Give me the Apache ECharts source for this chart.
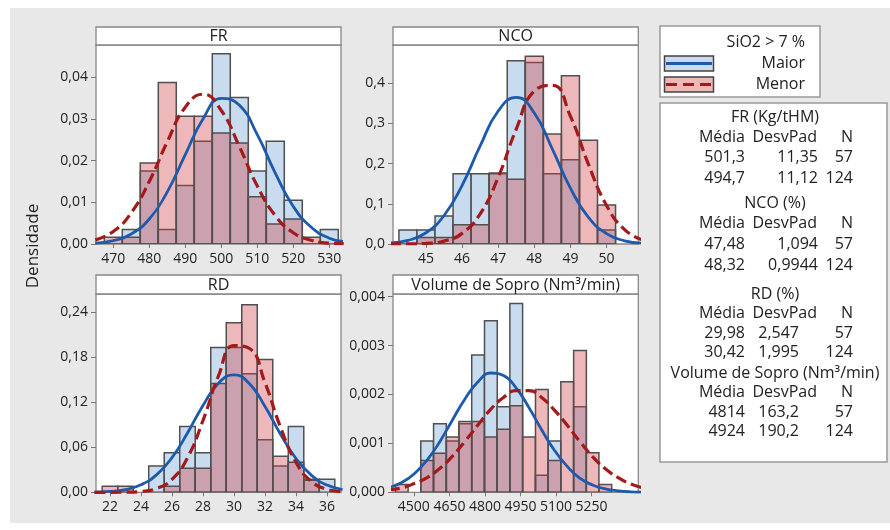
<!DOCTYPE html>
<html><head><meta charset="utf-8">
<script src="https://cdn.jsdelivr.net/npm/echarts@6/dist/echarts.min.js"></script>
<style>html,body{margin:0;padding:0;background:#fff}#c{width:890px;height:530px}</style>
</head><body><div id="c"></div>
<script>
// ---------- DATA ----------
const frCenters = [470,475,480,485,490,495,500,505,510,515,520,525,530];
const frBinWidth = 5;
const frMaior = [0,0.0035,0.0175,0.0035,0.014,0.0246,0.0456,0.0351,0.0175,0.0246,0.0105,0,0.0035];
const frMenor = [0.0016,0.0016,0.0194,0.0387,0.0306,0.0306,0.0266,0.0242,0.0113,0.0048,0.006,0.0016,0];
const frCurveX = [465,470,475,480,485,490,495,500,505,510,515,520,525,530,534];
const frMaiorCurve = [0.0002,0.0008,0.0024,0.006,0.0125,0.0214,0.0301,0.0349,0.0333,0.0262,0.017,0.009,0.004,0.0014,0.0006];
const frMenorCurve = [0.001,0.003,0.0075,0.015,0.0245,0.0328,0.0359,0.032,0.0234,0.0139,0.0068,0.0027,0.0009,0.0002,0.0001];
const frXTicks = [470,480,490,500,510,520,530];
const frYTicks = [0,0.01,0.02,0.03,0.04];

const ncoCenters = [44.5,45,45.5,46,46.5,47,47.5,48,48.5,49,49.5,50];
const ncoBinWidth = 0.5;
const ncoMaior = [0.035,0.035,0.07,0.175,0.175,0.175,0.456,0.452,0.175,0.21,0,0.035];
const ncoMenor = [0,0.016,0.016,0.048,0.048,0.177,0.161,0.467,0.274,0.419,0.258,0.097];
const ncoCurveX = [44,44.5,45,45.5,46,46.5,47,47.5,48,48.5,49,49.5,50,50.5,51];
const ncoMaiorCurve = [0.0025,0.009,0.028,0.071,0.146,0.244,0.331,0.365,0.326,0.236,0.139,0.066,0.026,0.008,0.002];
const ncoMenorCurve = [0.0001,0.0003,0.0015,0.0072,0.0264,0.075,0.166,0.286,0.381,0.395,0.318,0.198,0.096,0.036,0.01];
const ncoXTicks = [45,46,47,48,49,50];
const ncoYTicks = [0,0.1,0.2,0.3,0.4];

const rdCenters = [22,23,24,25,26,27,28,29,30,31,32,33,34,35,36];
const rdBinWidth = 1;
const rdMaior = [0,0,0,0.035,0.0526,0.0877,0.0526,0.193,0.193,0.158,0.07,0.035,0.0877,0.0175,0.0175];
const rdMenor = [0.008,0.008,0,0,0.008,0.032,0.032,0.145,0.226,0.25,0.177,0.048,0.04,0.016,0];
const rdCurveX = [21,22,23,24,25,26,27,28,29,30,31,32,33,34,35,36,37];
const rdMaiorCurve = [0.0003,0.0012,0.0037,0.01,0.0232,0.0462,0.079,0.1158,0.1454,0.1566,0.1446,0.1144,0.0775,0.0451,0.0225,0.0096,0.0035];
const rdMenorCurve = [0,0,0.0002,0.0011,0.005,0.0172,0.046,0.0958,0.1552,0.1956,0.1917,0.1461,0.0867,0.04,0.0143,0.004,0.0009];
const rdXTicks = [22,24,26,28,30,32,34,36];
const rdYTicks = [0,0.06,0.12,0.18,0.24];

const volCenters = [4449,4503,4556,4610,4664,4717,4771,4825,4878,4932,4986,5040,5093,5147,5201,5254,5308];
const volBinWidth = 53.7;
const volMaior = [0,0,0.00105,0.0014,0.00105,0.0014,0.00281,0.00351,0.00175,0.00386,0,0.00035,0.00105,0,0.00175,0,0];
const volMenor = [0.00016,0,0.00065,0.0008,0.00113,0.00145,0.00145,0.00113,0.00129,0.00177,0.00113,0.0021,0.00065,0.00226,0.0029,0.00081,0.00016];
const volCurveX = [4395,4449,4502,4556,4610,4663,4717,4771,4825,4878,4932,4986,5039,5093,5147,5200,5254,5308,5362,5415,5469];
const volMaiorCurve = [0.0001,0.0002,0.00038,0.00066,0.00104,0.00148,0.00192,0.00226,0.00244,0.00239,0.00213,0.00173,0.00128,0.00086,0.00053,0.00029,0.00015,0.00007,0.00003,0.00001,0.000004];
const volMenorCurve = [0.00005,0.00009,0.00018,0.0003,0.00049,0.00074,0.00105,0.00138,0.0017,0.00194,0.00208,0.00208,0.00194,0.00168,0.00137,0.00104,0.00073,0.00048,0.0003,0.00017,0.00009];
const volXTicks = [4500,4650,4800,4950,5100,5250];
const volYTicks = [0,0.001,0.002,0.003,0.004];

const panelTitles = ['FR','NCO','RD','Volume de Sopro (Nm³/min)'];
const legendTitle = 'SiO2 > 7 %';
const groupNames = ['Maior','Menor'];
const statTitles = ['FR (Kg/tHM)','NCO (%)','RD (%)','Volume de Sopro (Nm³/min)'];
const statHeaders = ['Média','DesvPad','N'];
const statMedia = [['501,3','494,7'],['47,48','48,32'],['29,98','30,42'],['4814','4924']];
const statDesvPad = [['11,35','11,12'],['1,094','0,9944'],['2,547','1,995'],['163,2','190,2']];
const statN = [['57','124'],['57','124'],['57','124'],['57','124']];
const yAxisName = 'Densidade';

// ---------- STYLE ----------
const FONT = '"Open Sans", "DejaVu Sans", sans-serif';
const TXT = '#222';
const BLUE_FILL = '#c8dbef';
const RED_FILL = 'rgba(210,60,66,0.37)';
const BAR_STROKE = '#505050';
const BLUE_LINE = '#1d5aac';
const RED_LINE = '#a41a1a';

const panels = [
  {c:frCenters,w:frBinWidth,a:frMaior,b:frMenor,cx:frCurveX,ca:frMaiorCurve,cb:frMenorCurve,xt:frXTicks,yt:frYTicks,xmin:465.2,xmax:533.25,ymax:0.0477,dec:2},
  {c:ncoCenters,w:ncoBinWidth,a:ncoMaior,b:ncoMenor,cx:ncoCurveX,ca:ncoMaiorCurve,cb:ncoMenorCurve,xt:ncoXTicks,yt:ncoYTicks,xmin:44.086,xmax:50.88,ymax:0.4953,dec:1},
  {c:rdCenters,w:rdBinWidth,a:rdMaior,b:rdMenor,cx:rdCurveX,ca:rdMaiorCurve,cb:rdMenorCurve,xt:rdXTicks,yt:rdYTicks,xmin:21.1,xmax:36.9,ymax:0.2644,dec:2},
  {c:volCenters,w:volBinWidth,a:volMaior,b:volMenor,cx:volCurveX,ca:volMaiorCurve,cb:volMenorCurve,xt:volXTicks,yt:volYTicks,xmin:4412,xmax:5447,ymax:0.004055,dec:3}
];
const gridBoxes = [
  {left:96,top:45,width:245,height:199},
  {left:393,top:45,width:245.3,height:199},
  {left:96,top:294,width:245,height:198.3},
  {left:393,top:294,width:245.3,height:198.3}
];

function histSeries(i, centers, w, vals, fill, z) {
  const data = [];
  centers.forEach((c, k) => { if (vals[k] > 0) data.push([c - w/2, c + w/2, vals[k]]); });
  return {
    type:'custom', xAxisIndex:i, yAxisIndex:i, z:z, clip:true, silent:true,
    encode:{x:[0,1], y:2},
    data:data,
    renderItem:function(params, api){
      const p0 = api.coord([api.value(0), 0]);
      const p1 = api.coord([api.value(1), api.value(2)]);
      return {type:'rect', shape:{x:p0[0], y:p1[1], width:p1[0]-p0[0], height:p0[1]-p1[1]},
        style:{fill:fill, stroke:BAR_STROKE, lineWidth:1.5}};
    }
  };
}
function curveSeries(i, xs, ys, color, dashed, z) {
  return {
    type:'line', xAxisIndex:i, yAxisIndex:i, z:z, clip:true, silent:true,
    showSymbol:false, smooth:true,
    data: xs.map((x,k)=>[x, ys[k]]),
    lineStyle:{color:color, width:dashed?3.2:2.8, type:dashed?[11,5]:'solid'}
  };
}

const grids = [], xAxes = [], yAxes = [], series = [];
panels.forEach((p, i) => {
  grids.push(Object.assign({show:true, backgroundColor:'#fff', borderColor:'#888', borderWidth:1.3, containLabel:false}, gridBoxes[i]));
  xAxes.push({type:'value', gridIndex:i, min:p.xmin, max:p.xmax,
    axisLine:{show:false}, splitLine:{show:false},
    axisTick:{show:true, length:4, lineStyle:{color:'#777'}, customValues:p.xt},
    axisLabel:{customValues:p.xt, color:TXT, fontSize:14, fontFamily:FONT, margin:8,
      formatter:(v)=>String(v).replace('.', ',')}
  });
  yAxes.push({type:'value', gridIndex:i, min:0, max:p.ymax,
    axisLine:{show:false}, splitLine:{show:false},
    axisTick:{show:true, length:5, lineStyle:{color:'#777'}, customValues:p.yt},
    axisLabel:{customValues:p.yt, color:TXT, fontSize:14, fontFamily:FONT, margin:8,
      formatter:(v)=>Number(v).toFixed(p.dec).replace('.', ',')}
  });
  series.push(histSeries(i, p.c, p.w, p.a, BLUE_FILL, 2));
  series.push(histSeries(i, p.c, p.w, p.b, RED_FILL, 3));
  series.push(curveSeries(i, p.cx, p.ca, BLUE_LINE, false, 4));
  series.push(curveSeries(i, p.cx, p.cb, RED_LINE, true, 5));
});

// ---------- GRAPHICS ----------
const g = [];
g.push({type:'rect', z:-10, shape:{x:10, y:8, width:880, height:515}, style:{fill:'#e8e8e8'}});
const strips = [
  {x:96,y:27,w:245,h:18},{x:393,y:27,w:245.3,h:18},
  {x:96,y:275,w:245,h:19},{x:393,y:275,w:245.3,h:19}
];
strips.forEach((s, i) => {
  g.push({type:'rect', z:10, shape:{x:s.x, y:s.y, width:s.w, height:s.h}, style:{fill:'#fff', stroke:'#888', lineWidth:1.3}});
  g.push({type:'text', z:11, x:s.x + s.w/2, y:s.y + s.h/2 + 0.5, style:{text:panelTitles[i], align:'center', verticalAlign:'middle', font:'16px ' + FONT, fill:TXT}});
});
g.push({type:'text', z:11, x:33, y:246, rotation:Math.PI/2, style:{text:yAxisName, align:'center', verticalAlign:'middle', font:'17px ' + FONT, fill:TXT}});
// legend
g.push({type:'rect', z:10, shape:{x:660, y:26, width:160, height:71}, style:{fill:'#fff', stroke:'#999', lineWidth:1.5}});
g.push({type:'text', z:11, x:805, y:42, style:{text:legendTitle, align:'right', verticalAlign:'middle', font:'16px ' + FONT, fill:TXT}});
g.push({type:'rect', z:11, shape:{x:664.5, y:56, width:49, height:15}, style:{fill:BLUE_FILL, stroke:'#444', lineWidth:1.5}});
g.push({type:'line', z:12, shape:{x1:666, y1:63.5, x2:712, y2:63.5}, style:{stroke:BLUE_LINE, lineWidth:2.8}});
g.push({type:'text', z:11, x:805, y:63, style:{text:groupNames[0], align:'right', verticalAlign:'middle', font:'16px ' + FONT, fill:TXT}});
g.push({type:'rect', z:11, shape:{x:664.5, y:77, width:49, height:15}, style:{fill:'#f0b7b7', stroke:'#444', lineWidth:1.5}});
g.push({type:'line', z:12, shape:{x1:666, y1:84.5, x2:712, y2:84.5}, style:{stroke:RED_LINE, lineWidth:2.8, lineDash:[11,6]}});
g.push({type:'text', z:11, x:805, y:84, style:{text:groupNames[1], align:'right', verticalAlign:'middle', font:'16px ' + FONT, fill:TXT}});
// stats box
g.push({type:'rect', z:10, shape:{x:660, y:103, width:227, height:359}, style:{fill:'#fff', stroke:'#999', lineWidth:1.5}});
const secY = [[117,137,157,178],[203,223,244,265],[294,313,333,352],[373,392,412,431]];
const col2R = [818,818,799,799];
for (let s = 0; s < 4; s++) {
  const ys = secY[s];
  const f = '16px ' + FONT;
  g.push({type:'text', z:11, x:775, y:ys[0], style:{text:statTitles[s], align:'center', verticalAlign:'middle', font:f, fill:TXT}});
  g.push({type:'text', z:11, x:745, y:ys[1], style:{text:statHeaders[0], align:'right', verticalAlign:'middle', font:f, fill:TXT}});
  g.push({type:'text', z:11, x:817, y:ys[1], style:{text:statHeaders[1], align:'right', verticalAlign:'middle', font:f, fill:TXT}});
  g.push({type:'text', z:11, x:853, y:ys[1], style:{text:statHeaders[2], align:'right', verticalAlign:'middle', font:f, fill:TXT}});
  for (let r = 0; r < 2; r++) {
    g.push({type:'text', z:11, x:745, y:ys[2+r], style:{text:statMedia[s][r], align:'right', verticalAlign:'middle', font:f, fill:TXT}});
    g.push({type:'text', z:11, x:col2R[s], y:ys[2+r], style:{text:statDesvPad[s][r], align:'right', verticalAlign:'middle', font:f, fill:TXT}});
    g.push({type:'text', z:11, x:853, y:ys[2+r], style:{text:statN[s][r], align:'right', verticalAlign:'middle', font:f, fill:TXT}});
  }
}

const chart = echarts.init(document.getElementById('c'), null, {renderer:'canvas'});
chart.setOption({
  animation:false,
  backgroundColor:'#fff',
  grid:grids, xAxis:xAxes, yAxis:yAxes, series:series,
  graphic:{elements:g}
});
</script></body></html>
